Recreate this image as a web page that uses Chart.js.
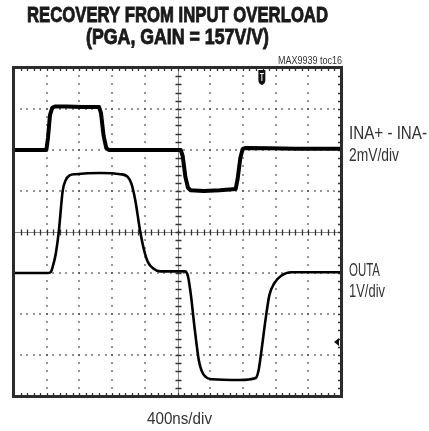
<!DOCTYPE html>
<html>
<head>
<meta charset="utf-8">
<script src="https://cdn.jsdelivr.net/npm/chart.js@4/dist/chart.umd.min.js"></script>
<style>
  html, body { margin: 0; padding: 0; background: #fff; }
  #wrap { width: 429px; height: 431px; }
</style>
</head>
<body>
<div id="wrap"><canvas id="scope" width="429" height="431"></canvas></div>
<script>
// scope screen: 10 x 8 divisions
const xDivs = 10;
const yDivs = 8;

// INA+ - INA- (2mV/div), positions in divisions
const inaX = [0, 0.99, 1.04, 1.1, 1.17, 1.25, 1.6, 2.1, 2.6, 2.66, 2.74, 2.82, 2.9, 3.5, 4.3, 5.1, 5.16, 5.24, 5.32, 5.4, 5.8, 6.3, 6.78, 6.84, 6.92, 6.99, 7.08, 7.8, 8.6, 10];
const inaY = [6.0, 6.0, 6.3, 6.85, 7.03, 7.06, 7.06, 7.05, 7.05, 6.9, 6.35, 6.05, 6.0, 6.0, 6.0, 6.0, 5.85, 5.35, 5.08, 5.02, 5.0, 5.02, 5.05, 5.3, 5.8, 6.02, 6.05, 6.04, 6.03, 6.03];

// OUTA (1V/div)
const outX = [0, 1.03, 1.12, 1.22, 1.28, 1.37, 1.49, 1.58, 1.7, 1.88, 2.64, 3.25, 3.47, 3.59, 3.71, 3.86, 3.98, 4.1, 4.26, 4.47, 5.23, 5.32, 5.41, 5.53, 5.65, 5.74, 5.87, 6.05, 6.9, 7.39, 7.48, 7.57, 7.69, 7.81, 7.96, 8.18, 8.48, 10];
const outY = [3.0, 3.0, 3.02, 3.26, 3.48, 4.01, 5.01, 5.26, 5.38, 5.41, 5.44, 5.41, 5.35, 5.18, 4.77, 4.01, 3.55, 3.26, 3.11, 3.04, 3.04, 2.92, 2.46, 1.61, 0.88, 0.61, 0.46, 0.41, 0.39, 0.44, 0.63, 1.12, 1.85, 2.46, 2.75, 2.94, 3.02, 3.02];

// markers: trigger (top) and ground level (right)
const trigX = 7.58;
const levelY = 1.32;

const titleLines = ['RECOVERY FROM INPUT OVERLOAD', '(PGA, GAIN = 157V/V)'];
const tocLabel = 'MAX9939 toc16';
const inaLabel = ['INA+ - INA-', '2mV/div'];
const outLabel = ['OUTA', '1V/div'];
const timeLabel = '400ns/div';

const pts = (xs, ys) => xs.map((x, i) => ({ x, y: ys[i] }));

// draw text squeezed to a given width (reference uses a condensed face)
function fitText(ctx, str, x, y, font, width, align, heavy) {
  ctx.save();
  ctx.font = font;
  const s = width / ctx.measureText(str).width;
  ctx.translate(x, y);
  ctx.scale(s, 1);
  ctx.textAlign = align;
  ctx.textBaseline = 'alphabetic';
  ctx.fillText(str, 0, 0);
  if (heavy) {
    ctx.strokeStyle = ctx.fillStyle;
    ctx.lineWidth = heavy;
    ctx.strokeText(str, 0, 0);
  }
  ctx.restore();
}

const graticule = {
  id: 'graticule',
  beforeDatasetsDraw(chart) {
    const { ctx, chartArea: a, scales: { x, y } } = chart;
    ctx.save();
    ctx.fillStyle = '#444';
    // dotted major lines
    for (let i = 1; i < xDivs; i++) {
      if (i === xDivs / 2) continue;
      const px = Math.round(x.getPixelForValue(i));
      for (let k = 0; k <= yDivs * 5; k++) {
        const py = Math.round(y.getPixelForValue(k / 5));
        ctx.fillRect(px - 0.75, py - 0.75, 1.5, 1.5);
      }
    }
    for (let j = 1; j < yDivs; j++) {
      if (j === yDivs / 2) continue;
      const py = Math.round(y.getPixelForValue(j));
      for (let k = 0; k <= xDivs * 5; k++) {
        const px = Math.round(x.getPixelForValue(k / 5));
        ctx.fillRect(px - 0.75, py - 0.75, 1.5, 1.5);
      }
    }
    // center axes with minor ticks
    const cx = Math.round(x.getPixelForValue(xDivs / 2)) + 0.5;
    const cy = Math.round(y.getPixelForValue(yDivs / 2)) + 0.5;
    ctx.strokeStyle = '#888';
    ctx.lineWidth = 1;
    ctx.beginPath();
    ctx.moveTo(a.left, cy); ctx.lineTo(a.right, cy);
    ctx.moveTo(cx, a.top); ctx.lineTo(cx, a.bottom);
    ctx.stroke();
    ctx.strokeStyle = '#333';
    ctx.lineWidth = 1.3;
    ctx.beginPath();
    for (let k = 1; k < xDivs * 5; k++) {
      const px = Math.round(x.getPixelForValue(k / 5)) + 0.5;
      ctx.moveTo(px, cy - 3); ctx.lineTo(px, cy + 3);
      // ticks on top and bottom edges
      ctx.moveTo(px, a.top); ctx.lineTo(px, a.top + 3);
      ctx.moveTo(px, a.bottom); ctx.lineTo(px, a.bottom - 3);
    }
    for (let k = 1; k < yDivs * 5; k++) {
      const py = Math.round(y.getPixelForValue(k / 5)) + 0.5;
      ctx.moveTo(cx - 3, py); ctx.lineTo(cx + 3, py);
      ctx.moveTo(a.right, py); ctx.lineTo(a.right - 3, py);
    }
    ctx.stroke();
    ctx.restore();
  },
  afterDatasetsDraw(chart) {
    const { ctx, chartArea: a, scales: { x, y } } = chart;
    ctx.save();
    // frame
    ctx.strokeStyle = '#2b2b2b';
    ctx.lineWidth = 3;
    ctx.strokeRect(a.left - 0.5, a.top - 0.5, a.right - a.left + 1, a.bottom - a.top + 1);

    // trigger marker
    const tx = x.getPixelForValue(trigX);
    ctx.fillStyle = '#111';
    ctx.beginPath();
    ctx.moveTo(tx - 3.5, a.top + 2);
    ctx.lineTo(tx + 3.5, a.top + 2);
    ctx.lineTo(tx + 3.5, a.top + 12);
    ctx.quadraticCurveTo(tx + 3.5, a.top + 16, tx, a.top + 17);
    ctx.quadraticCurveTo(tx - 3.5, a.top + 16, tx - 3.5, a.top + 12);
    ctx.closePath();
    ctx.fill();
    ctx.strokeStyle = '#fff';
    ctx.lineWidth = 1;
    ctx.beginPath();
    ctx.moveTo(tx - 2, a.top + 5.5); ctx.lineTo(tx + 2, a.top + 5.5);
    ctx.moveTo(tx, a.top + 5.5); ctx.lineTo(tx, a.top + 13);
    ctx.stroke();

    // level marker on the right edge
    const ly = y.getPixelForValue(levelY);
    ctx.fillStyle = '#111';
    ctx.beginPath();
    ctx.moveTo(a.right - 7, ly);
    ctx.lineTo(a.right - 2, ly - 4);
    ctx.lineTo(a.right - 2, ly + 4);
    ctx.closePath();
    ctx.fill();

    // texts
    ctx.fillStyle = '#1a1a1a';
    fitText(ctx, titleLines[0], 177.5, 22, 'bold 22px "Liberation Sans"', 301, 'center', 0.9);
    fitText(ctx, titleLines[1], 177.5, 43.5, 'bold 22px "Liberation Sans"', 183, 'center', 0.9);
    ctx.fillStyle = '#333';
    fitText(ctx, tocLabel, 342, 63.5, '10px "Liberation Sans"', 64, 'right');
    fitText(ctx, inaLabel[0], 349, 139, '19px "Liberation Sans"', 78, 'left');
    fitText(ctx, inaLabel[1], 349, 161, '19px "Liberation Sans"', 50, 'left');
    fitText(ctx, outLabel[0], 349, 276, '19px "Liberation Sans"', 31, 'left');
    fitText(ctx, outLabel[1], 349, 297, '19px "Liberation Sans"', 36, 'left');
    fitText(ctx, timeLabel, 179.5, 424, '17px "Liberation Sans"', 65, 'center');
    ctx.restore();
  }
};

new Chart(document.getElementById('scope'), {
  type: 'line',
  data: {
    datasets: [
      { label: inaLabel[0], data: pts(inaX, inaY), borderColor: '#000', borderWidth: 4, pointRadius: 0, tension: 0, borderJoinStyle: 'round' },
      { label: outLabel[0], data: pts(outX, outY), borderColor: '#000', borderWidth: 2.6, pointRadius: 0, tension: 0.25, cubicInterpolationMode: 'monotone', borderJoinStyle: 'round' }
    ]
  },
  options: {
    responsive: false,
    animation: false,
    layout: { padding: { left: 14, right: 88, top: 68, bottom: 35 } },
    plugins: { legend: { display: false }, tooltip: { enabled: false }, title: { display: false } },
    scales: {
      x: { type: 'linear', min: 0, max: xDivs, display: false },
      y: { type: 'linear', min: 0, max: yDivs, display: false }
    }
  },
  plugins: [graticule]
});
</script>
</body>
</html>
